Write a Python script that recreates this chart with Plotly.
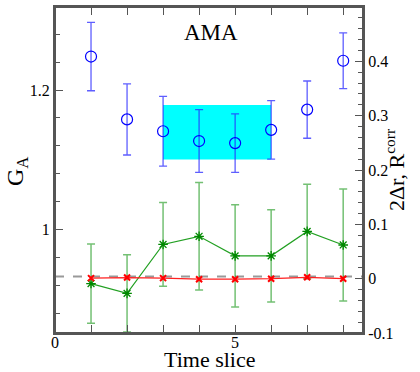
import plotly.graph_objects as go

# ───────────────── DATA ─────────────────
t = [1, 2, 3, 4, 5, 6, 7, 8]

# G_A (left axis)
ga = [1.248, 1.158, 1.141, 1.127, 1.124, 1.143, 1.172, 1.242]
ga_err = [0.049, 0.051, 0.050, 0.045, 0.042, 0.042, 0.041, 0.040]

# fit band over slices 3..6
band_t = [3, 6]
band_lo = 1.1005
band_hi = 1.1785

# 2Δr (right axis)
dr = [0.001, 0.002, 0.001, -0.001, -0.001, 0.000, 0.0025, 0.000]
dr_err = [0.003, 0.003, 0.003, 0.003, 0.003, 0.003, 0.003, 0.003]

# R^corr (right axis)
rc = [-0.009, -0.027, 0.063, 0.078, 0.042, 0.042, 0.087, 0.062]
rc_err = [0.073, 0.071, 0.077, 0.099, 0.094, 0.085, 0.087, 0.103]

zero_level = 0.004

FONT = "Liberation Serif"
FRAME = "#555555"

fig = go.Figure()

# ── cyan band ──
fig.add_trace(go.Scatter(
    x=[band_t[0], band_t[1], band_t[1], band_t[0], band_t[0]],
    y=[band_lo, band_lo, band_hi, band_hi, band_lo],
    fill="toself", fillcolor="#00ffff", mode="lines",
    line=dict(width=0), hoverinfo="skip", showlegend=False,
))

# ── G_A points ──
fig.add_trace(go.Scatter(
    x=t, y=ga, mode="markers",
    marker=dict(symbol="circle-open", size=11, color="#0000ff", line=dict(width=1.2)),
    error_y=dict(type="data", array=ga_err, color="rgba(40,40,255,0.75)", thickness=1.3, width=4),
    showlegend=False,
))

# ── dashed zero line ──
fig.add_trace(go.Scatter(
    x=[0, 8.55], y=[zero_level, zero_level], mode="lines", yaxis="y2",
    line=dict(color="#999999", width=1.8, dash="dash"), showlegend=False,
))

# ── R^corr (green) ──
fig.add_trace(go.Scatter(
    x=t, y=rc, mode="lines+markers", yaxis="y2",
    line=dict(color="#22a022", width=1.2),
    marker=dict(symbol="asterisk-open", size=8, color="#008800", line=dict(width=1.3, color="#008800")),
    error_y=dict(type="data", array=rc_err, color="rgba(0,140,0,0.55)", thickness=1.5, width=4),
    showlegend=False,
))

# ── 2Δr (red) ──
fig.add_trace(go.Scatter(
    x=t, y=dr, mode="lines+markers", yaxis="y2",
    line=dict(color="#ff2020", width=1.2),
    marker=dict(symbol="x-thin-open", size=6, color="#ff0000", line=dict(width=2, color="#ff0000")),
    error_y=dict(type="data", array=dr_err, color="rgba(255,60,60,0.6)", thickness=1.2, width=3),
    showlegend=False,
))

# ── text: panel label + axis titles ──
fig.add_annotation(x=4.32, y=1.283, text="AMA", showarrow=False,
                   font=dict(family=FONT, size=23, color="black"))
fig.add_annotation(x=-0.123, y=0.494, xref="paper", yref="paper", text="G<sub>A</sub>",
                   xanchor="center", yanchor="middle",
                   textangle=-90, showarrow=False, font=dict(family=FONT, size=24, color="black"))
fig.add_annotation(x=1.104, y=0.50, xref="paper", yref="paper", text="2Δr, R<sup>corr</sup>",
                   xanchor="center", yanchor="middle",
                   textangle=-90, showarrow=False, font=dict(family=FONT, size=22, color="black"))
fig.add_annotation(x=0.5, y=-0.082, xref="paper", yref="paper", text="Time slice",
                   xanchor="center", yanchor="middle", borderpad=0,
                   showarrow=False, font=dict(family=FONT, size=22, color="black"))

# ── plot frame ──
fig.add_shape(type="rect", xref="paper", yref="paper", x0=0, x1=1, y0=0, y1=1,
              line=dict(color=FRAME, width=2), layer="above")

fig.update_layout(
    width=420, height=372,
    margin=dict(l=55, r=57, t=7, b=39),
    paper_bgcolor="white", plot_bgcolor="white",
    font=dict(family=FONT, size=16, color="black"),
    xaxis=dict(
        range=[0, 8.55], tickvals=[0, 5], ticks="inside", ticklen=8, tickwidth=1.3,
        tickcolor=FRAME, showline=True, linecolor=FRAME, linewidth=2, mirror="allticks",
        showgrid=False, zeroline=False, automargin=False, ticklabelstandoff=-6,
        minor=dict(dtick=1, ticks="inside", ticklen=5, tickcolor=FRAME, tickwidth=1.3),
    ),
    yaxis=dict(
        range=[0.852, 1.319], tickvals=[1.0, 1.2], ticktext=["1", "1.2"],
        ticks="inside", ticklen=8, tickwidth=1.3, tickcolor=FRAME,
        showline=True, linecolor=FRAME, linewidth=2,
        showgrid=False, zeroline=False, automargin=False,
        minor=dict(tick0=1.0, dtick=0.04, ticks="inside", ticklen=5, tickcolor=FRAME, tickwidth=1.3),
    ),
    yaxis2=dict(
        range=[-0.1, 0.5], overlaying="y", side="right",
        tickvals=[-0.1, 0, 0.1, 0.2, 0.3, 0.4, 0.5],
        ticktext=["-0.1", "0", "0.1", "0.2", "0.3", "0.4", "0.5"],
        ticks="inside", ticklen=8, tickwidth=1.3, tickcolor=FRAME,
        showline=True, linecolor=FRAME, linewidth=2,
        showgrid=False, zeroline=False, automargin=False,
        minor=dict(tick0=0, dtick=0.02, ticks="inside", ticklen=5, tickcolor=FRAME, tickwidth=1.3),
    ),
)

# page body has a default margin; drop it so the figure sits at the window's corner
fig.write_html("out.html", config={"displayModeBar": False},
               post_script="document.body.style.margin='0';")
